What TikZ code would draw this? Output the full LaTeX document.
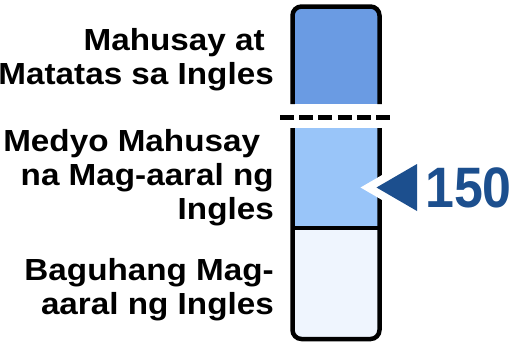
\documentclass[tikz,border=0pt]{standalone}
\usepackage{fontspec}
\setmainfont[FakeStretch=1.09]{Liberation Sans}
\newfontfamily\scorefont[FakeStretch=0.91]{Liberation Sans}
\usetikzlibrary{positioning}

\definecolor{bandhigh}{HTML}{6A9BE3}
\definecolor{bandmid}{HTML}{99C5F9}
\definecolor{bandlow}{HTML}{EFF5FE}
\definecolor{markblue}{HTML}{1C4F8E}

\begin{document}
\begin{tikzpicture}[x=1pt,y=-1pt]

        \useasboundingbox (0,0) rectangle (515,346);

        \tikzset{
          lvl/.style={font=\bfseries\fontsize{30.5}{34}\selectfont, align=right,
                      anchor=north east, inner sep=0pt},
          rim/.style={line width=4.5pt, line cap=butt},
        }

        % corners of the bar
        \coordinate (nw) at (292.5,6.5);
        \coordinate (se) at (379.5,339);

        % bands
        \begin{scope}
          \clip[rounded corners=9pt] (nw) rectangle (se);
          \fill[bandhigh] (292.5,6.5)  rectangle (379.5,104);
          \fill[bandlow]  (292.5,215)  rectangle (379.5,339);
          \fill[bandmid]  (292.5,128)  rectangle (379.5,228);
        \end{scope}

        \draw[rim, rounded corners=9pt] (292.5,104) -- (292.5,6.5) -- (379.5,6.5) -- (379.5,104);
        \draw[rim, rounded corners=9pt] (292.5,128) -- (292.5,339) -- (379.5,339) -- (379.5,128);
        \draw[rim] (292.5,228) -- (379.5,228);

        % cut line
        \coordinate (cutl) at (280,117.5);
        \coordinate (cutr) at (390,117.5);
        \draw[line width=4.5pt, dash pattern=on 14pt off 5.2pt] (cutl) -- (cutr);

        % labels
        \node[lvl] (high) at (274,28.3)  {Mahusay at\hspace*{0.3em}\\Matatas sa Ingles};
        \node[lvl] (mid)  at (274,129)   {Medyo Mahusay\hspace*{0.45em}\\na Mag-aaral ng\hspace*{0.2em}\\Ingles};
        \node[lvl] (low)  at (274,258)   {Baguhang Mag-\\aaral ng Ingles};

        % marker
        \coordinate (tip) at (376.5,187.5);
        \coordinate (bt)  at (417,164);
        \coordinate (bb)  at (417,211);
        \draw[white, fill=white, line width=16pt, line join=miter] (tip) -- (bt) -- (bb) -- cycle;
        \fill[markblue] (tip) -- (bt) -- (bb) -- cycle;

        \node[anchor=base west, inner sep=0pt, text=markblue,
              font=\scorefont\bfseries\fontsize{57}{57}\selectfont] (score) at (425,207) {150};

      \end{tikzpicture}
\end{document}
